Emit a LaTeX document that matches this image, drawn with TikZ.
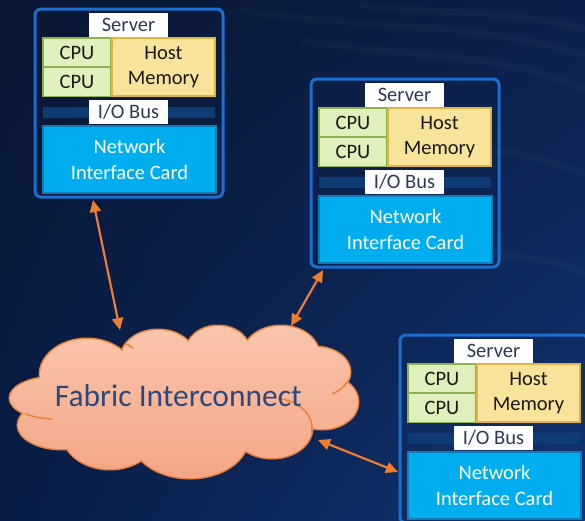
\documentclass[tikz,border=0pt]{standalone}
\usepackage{fontspec}
\setmainfont{Carlito}
\usetikzlibrary{arrows.meta,calc,shadings}

\definecolor{bgTL}{HTML}{0A1733}
\definecolor{bgTR}{HTML}{0C1F4A}
\definecolor{bgBL}{HTML}{081C46}
\definecolor{bgBR}{HTML}{123573}
\definecolor{frameBlue}{HTML}{1C6ECF}
\definecolor{tagText}{HTML}{2C3A57}
\definecolor{cpuFill}{HTML}{E0F0BD}
\definecolor{cpuLine}{HTML}{8DB14C}
\definecolor{memFill}{HTML}{F8E39B}
\definecolor{memLine}{HTML}{E0B443}
\definecolor{busBlue}{HTML}{0C3C73}
\definecolor{nicFill}{HTML}{00AEEF}
\definecolor{nicLine}{HTML}{127CB8}
\definecolor{linkOrange}{HTML}{ED7D31}
\definecolor{cloudTop}{HTML}{F9C6AD}
\definecolor{cloudBot}{HTML}{F4A584}
\definecolor{cloudLine}{HTML}{E8823A}
\definecolor{cloudText}{HTML}{2B497E}

\tikzset{
  boxfont/.style={font=\fontsize{20.5}{25.5}\selectfont},
  srvframe/.style={draw=frameBlue, line width=3pt, rounded corners=6pt,
    inner sep=0pt, outer sep=0pt, minimum width=188pt, minimum height=188pt},
  tagbox/.style={boxfont, fill=white, text=tagText, inner sep=0pt,
    minimum width=79pt, minimum height=24pt, text height=13.2pt, text depth=0pt},
  cpubox/.style={boxfont, fill=cpuFill, draw=cpuLine, line width=1.3pt,
    text=black!90, inner sep=0pt, minimum width=68pt, minimum height=29pt,
    text height=13.2pt, text depth=0pt},
  membox/.style={boxfont, fill=memFill, draw=memLine, line width=1.3pt,
    text=black!90, align=center, inner sep=0pt,
    minimum width=103pt, minimum height=58pt},
  busbar/.style={fill=busBlue, inner sep=0pt, minimum width=172pt, minimum height=11pt},
  nicbox/.style={boxfont, fill=nicFill, draw=nicLine, line width=2.5pt,
    text=white, align=center, inner sep=0pt,
    minimum width=173pt, minimum height=67pt},
  link/.style={draw=linkOrange, line width=2.2pt,
    {Triangle[length=12pt,width=11pt]}-{Triangle[length=12pt,width=11pt]}},
  % the puffs of the cloud, as a union of ellipses
  cloudshape/.style={insert path={
    (55,398)  ellipse [x radius=45pt, y radius=21pt]
    (62,425)  ellipse [x radius=44pt, y radius=24pt]
    (110,432) ellipse [x radius=48pt, y radius=37pt]
    (190,438) ellipse [x radius=58pt, y radius=40pt]
    (272,428) ellipse [x radius=40pt, y radius=30pt]
    (322,402) ellipse [x radius=36pt, y radius=27pt]
    (315,372) ellipse [x radius=35pt, y radius=25pt]
    (281,355) ellipse [x radius=38pt, y radius=29pt]
    (218,352) ellipse [x radius=32pt, y radius=26pt]
    (158,358) ellipse [x radius=37pt, y radius=28pt]
    (87,375)  ellipse [x radius=47pt, y radius=36pt]
    (190,395) ellipse [x radius=130pt, y radius=45pt]}},
  cloudedge/.style={draw=cloudLine, line width=1.5pt}
}

% one server: frame, label, two CPUs, memory, I/O bus and NIC
\newcommand\serverunit[3]{%
  \begin{scope}[shift={(#2,#3)}]
    \node[srvframe] (#1) at (94,94) {};
    \node[tagbox] (#1-tag) at (93.5,16) {Server};
    \node[cpubox] (#1-cpu1) at (42,43.5) {CPU};
    \node[cpubox] (#1-cpu2) at (42,73) {CPU};
    \node[membox] (#1-mem) at (128.5,58) {Host\\Memory};
    \node[busbar] (#1-bus) at (94,103.5) {};
    \node[tagbox] (#1-bustag) at (93.5,102.5) {I/O Bus};
    \node[nicbox] (#1-nic) at (94.5,150.5) {Network\\Interface Card};
  \end{scope}}

\begin{document}
\begin{tikzpicture}[x=1pt, y=-1pt]
  \useasboundingbox (0,0) rectangle (585,520);
  \clip (0,0) rectangle (585,520);

  % backdrop
  \shade[upper left=bgTL, upper right=bgTR, lower left=bgBL, lower right=bgBR]
    (0,0) rectangle (585,520);
  \begin{scope}[white, opacity=0.022, line width=7pt]
    \draw (240,10)  .. controls (360,30) and (470,20) .. (585,55);
    \draw (300,40)  .. controls (420,60) and (500,50) .. (585,90);
    \draw (360,5)   .. controls (450,15) and (520,10) .. (585,30);
    \draw (330,140) .. controls (430,150) and (510,140) .. (585,175);
    \draw (480,250) .. controls (520,260) and (550,255) .. (585,275);
  \end{scope}

  % cloud: thick outline first, then the shaded fill on top of it
  \path[cloudedge, line width=3pt, cloudshape];
  \begin{scope}
    \clip[cloudshape];
    \shade[top color=cloudTop, bottom color=cloudBot] (5,322) rectangle (365,482);
    % short inner arcs where the puffs overlap
    \begin{scope}
      \clip (278,396) rectangle (313,432);
      \draw[cloudedge] (272,428) ellipse [x radius=40pt, y radius=30pt];
    \end{scope}
    \begin{scope}
      \clip (25,405) rectangle (52,425);
      \draw[cloudedge] (55,398) ellipse [x radius=45pt, y radius=21pt];
    \end{scope}
    \begin{scope}
      \clip (332,380) rectangle (349,396);
      \draw[cloudedge] (315,372) ellipse [x radius=35pt, y radius=25pt];
    \end{scope}
    \draw[cloudedge] (124,343) .. controls (128,344.5) .. (133,348.5);
  \end{scope}
  \node[font=\fontsize{31.5}{36}\selectfont, text=cloudText, anchor=base,
        inner sep=0pt] (fabric) at (178.3,406.7) {Fabric Interconnect};

  % attachment points on the cloud
  \coordinate (fabric-a) at (120,330);
  \coordinate (fabric-b) at (291,326);
  \coordinate (fabric-c) at (318,440);

  % servers
  \serverunit{s1}{35}{9}
  \serverunit{s2}{311}{79}
  \serverunit{s3}{400}{335}

  % links
  \draw[link] ($(s1.south west)+(58,3)$) -- (fabric-a);
  \draw[link] ($(s2.south west)+(12,3)$) -- (fabric-b);
  \draw[link] (fabric-c) -- ($(s3.north west)+(-2,137)$);
\end{tikzpicture}
\end{document}
